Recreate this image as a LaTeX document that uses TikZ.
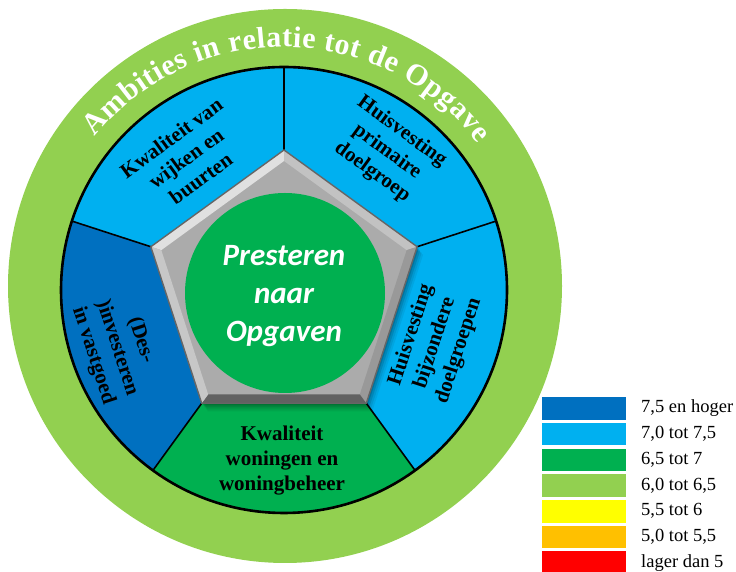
\documentclass[tikz,border=0pt]{standalone}
\usepackage{fontspec}
\setmainfont{Liberation Serif}
\newfontfamily\calibfont{Carlito}
\usetikzlibrary{decorations.text}
\definecolor{ringgreen}{HTML}{92D050}
\definecolor{skyblue}{HTML}{00B0F0}
\definecolor{deepblue}{HTML}{0070C0}
\definecolor{leafgreen}{HTML}{00B050}
\definecolor{sunyellow}{HTML}{FFFF00}
\definecolor{amber}{HTML}{FFC000}
\definecolor{alarmred}{HTML}{FF0000}
\definecolor{bevelface}{HTML}{ABABAB}

\begin{document}
\begin{tikzpicture}[x=1pt,y=1pt,
  segtext/.style={font=\bfseries\fontsize{21}{25}\selectfont, align=center, text=black, inner sep=0pt},
  divider/.style={line width=1.6pt, black},
  legbox/.style={minimum width=84pt, minimum height=22.5pt, inner sep=0pt, draw=none},
  legtext/.style={font=\fontsize{18.5}{20}\selectfont, anchor=west, inner sep=0pt},
  hubtext/.style={font=\calibfont\bfseries\itshape\fontsize{31}{38}\selectfont, align=center, inner sep=0pt},
]
\useasboundingbox (0,0) rectangle (736,572);
\coordinate (C) at (284,282);

% outer ring
\fill[ringgreen] (285,286) circle[radius=277];

% five segments
\fill[skyblue] (C) circle[radius=223];
\fill[deepblue] (C) -- ++(162:223) arc[start angle=162, end angle=234, radius=223] -- cycle;
\fill[leafgreen] (C) -- ++(234:223) arc[start angle=234, end angle=306, radius=223] -- cycle;

% pentagon corners (outer edge, inner bevel edge) and divider ends
\foreach \i/\a in {1/90, 2/162, 3/234, 4/306, 5/18} {
  \path (C) ++(\a:140) coordinate (V\i);
  \path (C) ++(\a:129) coordinate (U\i);
  \path (C) ++(\a:223) coordinate (W\i);
}
\foreach \i in {1,...,5} \draw[divider] (V\i) -- (W\i);
\draw[line width=2.6pt] (C) circle[radius=223];

% title along the ring
\path (C) ++(141:243) coordinate (T1);
\path[decorate, decoration={text along path, text align={fit to path}, text color=white,
  text={|\bfseries\fontsize{30}{30}\selectfont|Ambities in relatie tot de Opgave}}]
  (T1) arc[start angle=141, end angle=37, radius=243];

% soft drop shadow of the pentagon
\foreach \dx/\dy/\op in {1.5/-2/.14, 3/-4/.11, 4.5/-6/.08, 6/-8/.06} {
  \fill[black, opacity=\op] ([xshift=\dx pt,yshift=\dy pt]V1) -- ([xshift=\dx pt,yshift=\dy pt]V2)
    -- ([xshift=\dx pt,yshift=\dy pt]V3) -- ([xshift=\dx pt,yshift=\dy pt]V4)
    -- ([xshift=\dx pt,yshift=\dy pt]V5) -- cycle;
}

% bevelled pentagon
\fill[bevelface] (V1) -- (V2) -- (V3) -- (V4) -- (V5) -- cycle;
\fill[black!12] (V2) -- (V1) -- (U1) -- (U2) -- cycle;
\fill[black!24] (V1) -- (V5) -- (U5) -- (U1) -- cycle;
\fill[black!40] (V5) -- (V4) -- (U4) -- (U5) -- cycle;
\fill[black!62] (V4) -- (V3) -- (U3) -- (U4) -- cycle;
\fill[black!22] (V3) -- (V2) -- (U2) -- (U3) -- cycle;
\draw[black!60, line width=1.4pt, line join=round] (V1) -- (V2) -- (V3) -- (V4) -- (V5) -- cycle;

% hub
\fill[leafgreen] (285,279) circle[radius=100];
\node[hubtext, text=white] (hub) at (284,276) {Presteren\\naar\\Opgaven};

% segment labels
\node[segtext, rotate=36] (wijken) at (186,414) {Kwaliteit van\\wijken en\\buurten};
\node[segtext, rotate=-36] (primair) at (387,420) {Huisvesting\\primaire\\doelgroep};
\node[segtext, rotate=72] (bijzonder) at (435,229) {Huisvesting\\bijzondere\\doelgroepen};
\node[segtext, rotate=-72] (vastgoed) at (117,224) {(Des-\\)investeren\\in vastgoed};
\node[segtext] (woningen) at (282,111) {Kwaliteit\\woningen en\\woningbeheer};

% legend
\foreach \k/\col/\lab in {0/deepblue/{7,5 en hoger}, 1/skyblue/{7,0 tot 7,5}, 2/leafgreen/{6,5 tot 7},
    3/ringgreen/{6,0 tot 6,5}, 4/sunyellow/{5,5 tot 6}, 5/amber/{5,0 tot 5,5}, 6/alarmred/{lager dan 5}} {
  \node[legbox, fill=\col] (leg\k) at (584,163.5-25.7*\k) {};
  \node[legtext] (lab\k) at (641,163.5-25.7*\k) {\lab};
}
\end{tikzpicture}
\end{document}
